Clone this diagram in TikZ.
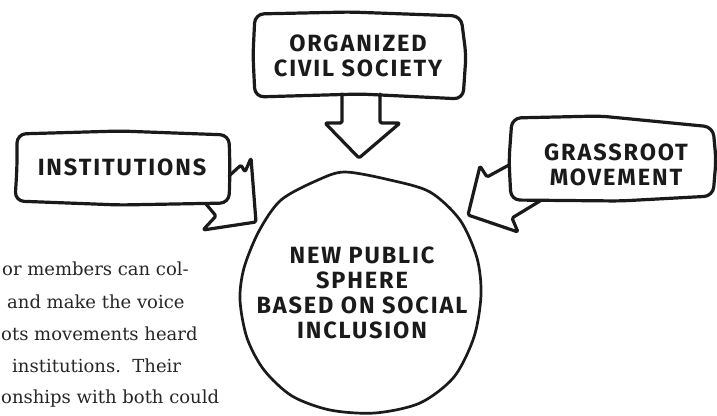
\documentclass[tikz,border=0pt]{standalone}
\usepackage{fontspec}
\setmainfont{DejaVu Serif}
\newfontfamily\handfont[LetterSpace=8]{Fira Sans}

\definecolor{ink}{HTML}{1A1A1A}
\definecolor{bodytext}{HTML}{262626}

\tikzset{
  sketch/.style={draw=ink, line width=3.2pt, line join=round, line cap=round, rounded corners=9pt},
  tipline/.style={draw=ink, line width=3.2pt, line join=round, line cap=round, rounded corners=1.5pt},
  label/.style={font=\handfont\bfseries\fontsize{23.5}{25}\selectfont, text=ink, align=center, inner sep=0pt},
  para/.style={font=\fontsize{18}{32}\selectfont, text=bodytext, anchor=base west, inner sep=0pt}
}

\begin{document}
\begin{tikzpicture}[x=1pt, y=-1pt]

    \useasboundingbox (0,0) rectangle (717,415);
    \clip (0,0) rectangle (717,415);

    % text column running behind the figure
    \node[para] (line1) at (2,275) {or members can col-};
    \node[para] (line2) at (7,308) {and make the voice};
    \node[para] (line3) at (1,340) {ots movements heard};
    \node[para] (line4) at (12,372) {institutions.\ \ Their};
    \node[para] (line5) at (1,403) {onships with both could};

    % speech boxes
    \draw[sketch] (255,97) -- (253,55) -- (255,14) -- (350,12) -- (461,16) -- (466,55) -- (463,99) -- (360,94) -- cycle;
    \draw[sketch] (15,201) -- (17,167) -- (17,134) -- (120,131) -- (229,135) -- (230,170) -- (229,203) -- (120,205) -- cycle;
    \draw[sketch] (511,200) -- (509,160) -- (512,118) -- (600,116) -- (713,127) -- (716,160) -- (713,196) -- (620,201) -- cycle;

    \node[label] (civil) at (358,55.5) {ORGANIZED\\CIVIL SOCIETY};
    \node[label] (inst) at (122,167) {INSTITUTIONS};
    \node[label] (grass) at (616,164.5) {GRASSROOT\\MOVEMENT};

    % block arrows hanging off the boxes
    \draw[tipline] (342,94) -- (342,123) -- (325,123) -- (359,158) -- (400,123) -- (380,123) -- (380,94);
    \draw[tipline] (229,176) -- (241,165) -- (245,172) -- (251,158) -- (256,222) -- (203,230) -- (216,216) -- (206,204);
    \draw[tipline] (509,165) -- (487,177) -- (480,166) -- (468,215) -- (518,232) -- (512,218) -- (540,201);

    % the circle they all point at
    \draw[draw=ink, line width=2.7pt] plot[smooth cycle] coordinates {
      (345,172) (390,180) (430,192) (460,220) (477,258) (481,295) (474,337)
      (454,377) (420,403) (375,413) (330,410) (292,396) (264,370) (247,338)
      (240,300) (244,268) (259,231) (281,200) (318,180)};
    \node[label] (sphere) at (362,293) {NEW PUBLIC\\SPHERE\\BASED ON SOCIAL\\INCLUSION};

\end{tikzpicture}
\end{document}
